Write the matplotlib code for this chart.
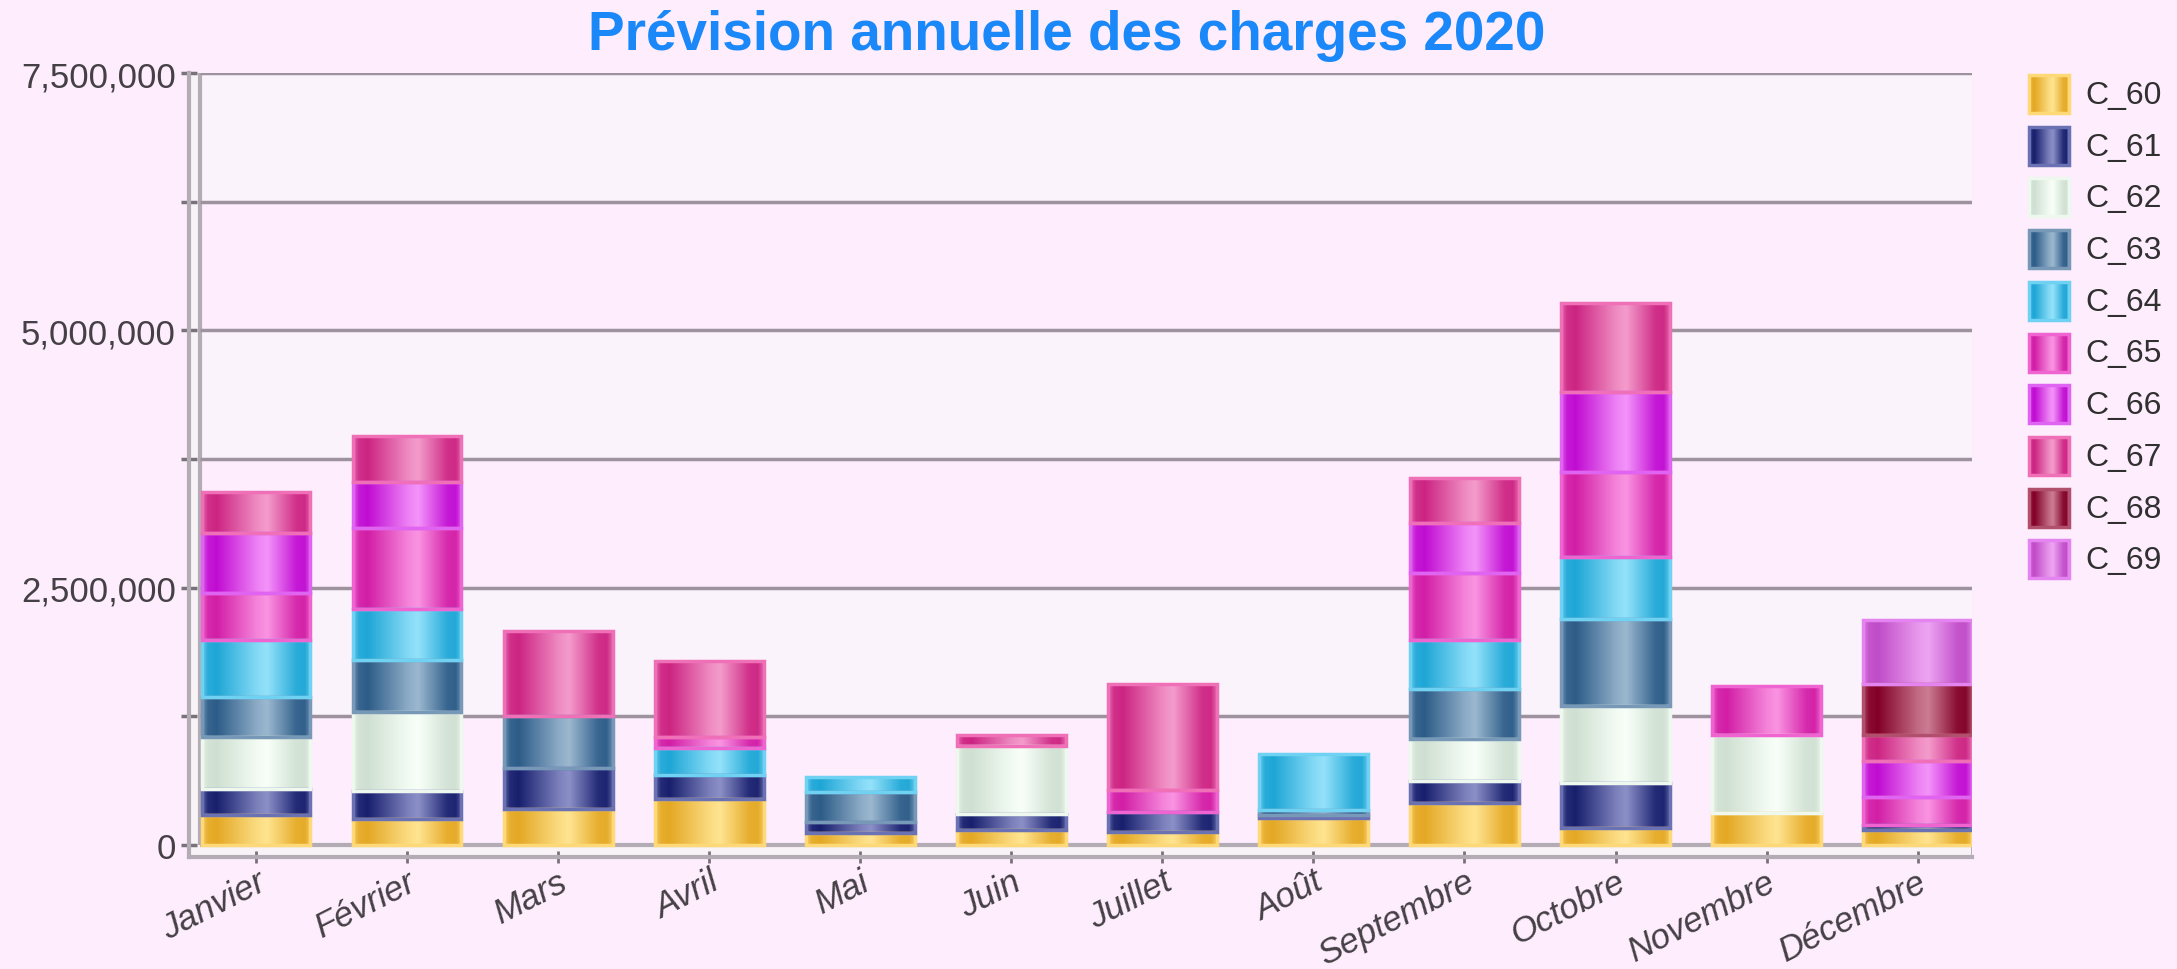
import numpy as np
import matplotlib
matplotlib.use('Agg')
import matplotlib.pyplot as plt
from matplotlib.patches import Rectangle
from matplotlib.ticker import FuncFormatter

plt.rcParams['font.family'] = ['Liberation Sans', 'DejaVu Sans']

#months
mois = ['Janvier', 'Février', 'Mars', 'Avril', 'Mai', 'Juin', 'Juillet',
        'Août', 'Septembre', 'Octobre', 'Novembre', 'Décembre']

#charges per account (in euros)
C_60 = [295e3, 250e3, 350e3, 450e3, 120e3, 150e3, 130e3, 260e3, 410e3, 160e3, 310e3, 150e3]
C_61 = [250e3, 270e3, 400e3, 230e3, 100e3, 150e3, 190e3, 30e3, 210e3, 440e3, 0, 40e3]
C_62 = [500e3, 770e3, 0, 0, 0, 660e3, 0, 0, 410e3, 750e3, 760e3, 0]
C_63 = [390e3, 510e3, 500e3, 0, 290e3, 0, 0, 50e3, 490e3, 850e3, 0, 0]
C_64 = [560e3, 490e3, 0, 260e3, 150e3, 0, 0, 540e3, 470e3, 600e3, 0, 0]
C_65 = [450e3, 790e3, 0, 110e3, 0, 0, 210e3, 0, 650e3, 820e3, 470e3, 280e3]
C_66 = [590e3, 450e3, 0, 0, 0, 0, 0, 0, 490e3, 780e3, 0, 350e3]
C_67 = [390e3, 440e3, 830e3, 740e3, 0, 110e3, 1030e3, 0, 440e3, 870e3, 0, 250e3]
C_68 = [0, 0, 0, 0, 0, 0, 0, 0, 0, 0, 0, 490e3]
C_69 = [0, 0, 0, 0, 0, 0, 0, 0, 0, 0, 0, 630e3]

series_names = ['C_60', 'C_61', 'C_62', 'C_63', 'C_64', 'C_65', 'C_66', 'C_67', 'C_68', 'C_69']
series_vals = [C_60, C_61, C_62, C_63, C_64, C_65, C_66, C_67, C_68, C_69]

#(dark, light, edge) colours for the cylinder look
styles = [('#e4a824', '#ffe490', '#ffd878'),
          ('#18206e', '#8c90c8', '#6a72b4'),
          ('#cfe0d2', '#f8fff8', '#eef8ee'),
          ('#2c5c88', '#9cb8d0', '#7898b8'),
          ('#1ea6d6', '#94e2fa', '#70d2f2'),
          ('#d21ea6', '#fa94e2', '#f064d2'),
          ('#c00cd2', '#f494fa', '#e064f2'),
          ('#cc2482', '#f49ccc', '#f070b8'),
          ('#820028', '#cc7c94', '#b0506c'),
          ('#c04cc8', '#eea4f2', '#e484f0')]

bg = '#fdedfd'
band = '#fbf3fb'
gridc = '#9d929d'
wallc = '#b4acb4'
textc = '#454045'


def cyl(dark, light, n=80):
    d = np.array(matplotlib.colors.to_rgb(dark))
    l = np.array(matplotlib.colors.to_rgb(light))
    t = np.linspace(0, 1, n)
    p = np.interp(t, [0, 0.05, 0.13, 0.5, 0.6, 0.87, 0.95, 1.0],
                  [0.55, 0.1, 0.0, 0.85, 1.0, 0.1, 0.05, 0.5])
    return (d[None, :] + (l - d)[None, :] * p[:, None])[None, :, :]


fig = plt.figure(figsize=(21.77, 9.70), dpi=100, facecolor=bg)
ax = fig.add_axes([189 / 2177, 112 / 970, 1783 / 2177, 784 / 970])
ax.set_facecolor(bg)

x = np.arange(len(mois))
w = 0.72
xl, xr = -0.444, 11.36
xin = -0.37
ymin, ymax = -0.117e6, 7.5e6
step = 1.25e6

#background bands (textured bands of the original)
levels = np.arange(0, ymax + 1, step)
for i, lv in enumerate(levels[:-1]):
    if i % 2 == 1:
        ax.fill_between([xin, xr], lv, lv + step, color=band, zorder=0, lw=0)

#3d wall and floor
ax.fill_between([xl, xin], ymin, ymax, color='#f7f3f7', zorder=1, lw=0)
ax.fill_between([xl, xr], ymin, 0, color='#f7f3f7', zorder=1, lw=0)
ax.vlines(xin, 0, ymax, color=wallc, lw=3, zorder=2)
ax.hlines(0, xin, xr, color=wallc, lw=3, zorder=2)
ax.vlines(xr, ymin, 0, color=wallc, lw=2, zorder=2)

#grid
ax.hlines(levels[1:], xin, xr, color=gridc, lw=2.5, zorder=2)

#stacked cylinder bars
bottom = np.zeros(len(mois))
for vals, (dark, light, edge) in zip(series_vals, styles):
    vals = np.array(vals, dtype=float)
    img = cyl(dark, light)
    for xi, b, h in zip(x, bottom, vals):
        if h <= 0:
            continue
        ax.imshow(img, extent=[xi - w / 2, xi + w / 2, b, b + h], aspect='auto',
                  interpolation='bilinear', zorder=3)
        ax.add_patch(Rectangle((xi - w / 2, b), w, h, facecolor='none',
                               edgecolor=edge, lw=2.5, zorder=4))
    bottom += vals

ax.set_xlim(xl, xr)
ax.set_ylim(ymin, ymax)

for s in ['top', 'right']:
    ax.spines[s].set_visible(False)
for s in ['left', 'bottom']:
    ax.spines[s].set_color(wallc)
    ax.spines[s].set_linewidth(3)

ax.set_yticks(np.arange(0, ymax + 1, 2 * step))
ax.set_yticks(np.arange(step, ymax, 2 * step), minor=True)
ax.yaxis.set_major_formatter(FuncFormatter(lambda v, p: '{:,.0f}'.format(v)))
ax.tick_params(axis='y', which='both', direction='inout', length=11, width=2.5,
               color='#7a727a', labelsize=25, labelcolor=textc, pad=4)

ax.set_xticks(x)
ax.set_xticklabels(mois, rotation=27, ha='right', rotation_mode='anchor',
                   fontstyle='italic', fontsize=25, color=textc)
ax.tick_params(axis='x', direction='inout', length=9, width=2, color='#7a727a', pad=1)

fig.suptitle('Prévision annuelle des charges 2020', x=0.49, y=0.99,
             fontsize=39.5, fontweight='bold', color='#1a88f8')

#legend drawn in pixel space
lg = fig.add_axes([0, 0, 1, 1], facecolor='none')
lg.set_xlim(0, 2177)
lg.set_ylim(970, 0)
lg.axis('off')
for i, (name, (dark, light, edge)) in enumerate(zip(series_names, styles)):
    y0 = 76 + i * 51.7
    lg.imshow(cyl(dark, light, 40), extent=[2029, 2069, y0 + 38, y0], aspect='auto',
              interpolation='bilinear', zorder=3)
    lg.add_patch(Rectangle((2029, y0), 40, 38, facecolor='none', edgecolor=edge,
                           lw=2.5, zorder=4))
    lg.text(2085, y0 + 20, name, fontsize=23, color='#303030', va='center', ha='left')

fig.savefig('out.png', dpi=100, facecolor=bg)
